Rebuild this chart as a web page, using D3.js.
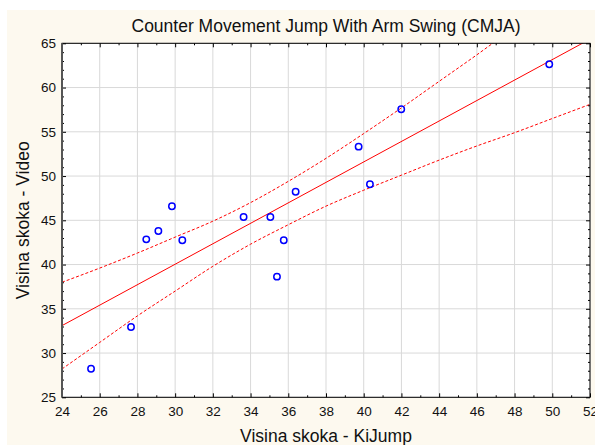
<!DOCTYPE html>
<html>
<head>
<meta charset="utf-8">
<script src="https://cdn.jsdelivr.net/npm/d3@7"></script>
<style>
  body { margin: 0; background: #fff; }
  text { font-family: "Liberation Sans", Arial, sans-serif; fill: #111; }
</style>
</head>
<body>
<div id="chart"></div>
<script>
// measured points (KiJump vs Video)
const kiJump = [25.54, 27.66, 28.47, 29.11, 29.83, 30.38, 33.63, 35.05, 35.40, 35.76, 36.39, 39.73, 40.33, 41.99, 49.84];
const video = [28.23, 32.94, 42.85, 43.79, 46.58, 42.74, 45.37, 45.37, 38.63, 42.74, 48.23, 53.32, 49.07, 57.54, 62.63];

// regression line ends
const fitX = [24, 52];
const fitY = [33.1, 65.47];

// 95% confidence bands, read at every major x tick
const bandX = [24, 26, 28, 30, 32, 34, 36, 38, 40, 42, 44, 46, 48, 50, 52];
const bandUpper = [38.0, 39.6, 41.3, 43.1, 44.9, 47.0, 49.4, 52.0, 54.8, 57.7, 60.7, 63.7, 66.8, 69.8, 72.9];
const bandLower = [28.2, 31.2, 34.2, 37.0, 39.8, 42.3, 44.5, 46.6, 48.4, 50.1, 51.8, 53.4, 54.9, 56.5, 58.1];

const xTicks = d3.range(24, 53, 2);
const yTicks = d3.range(25, 66, 5);

const title = "Counter Movement Jump With Arm Swing (CMJA)";
const xLabel = "Visina skoka - KiJump";
const yLabel = "Visina skoka - Video";

const W = 595, H = 445;
const mLeft = 62, mRight = 590, mTop = 43.3, mBottom = 397.3;

const svg = d3.select("#chart").append("svg").attr("width", W).attr("height", H);

svg.append("rect").attr("x", 7).attr("y", 10).attr("width", W - 7).attr("height", H - 10)
  .attr("fill", "#fdf9ef");

const x = d3.scaleLinear().domain([24, 52]).range([mLeft, mRight]);
const y = d3.scaleLinear().domain([25, 65]).range([mBottom, mTop]);

svg.append("rect").attr("x", mLeft).attr("y", mTop).attr("width", mRight - mLeft).attr("height", mBottom - mTop)
  .attr("fill", "#fff");

svg.append("clipPath").attr("id", "plot-clip").append("rect")
  .attr("x", mLeft).attr("y", mTop).attr("width", mRight - mLeft).attr("height", mBottom - mTop);

// grid
svg.append("g").selectAll("line").data(xTicks).enter().append("line")
  .attr("x1", d => x(d)).attr("x2", d => x(d)).attr("y1", mTop).attr("y2", mBottom)
  .attr("stroke", "#d9d9d9").attr("stroke-width", 1);
svg.append("g").selectAll("line").data(yTicks).enter().append("line")
  .attr("x1", mLeft).attr("x2", mRight).attr("y1", d => y(d)).attr("y2", d => y(d))
  .attr("stroke", "#d9d9d9").attr("stroke-width", 1);

const plot = svg.append("g").attr("clip-path", "url(#plot-clip)");

const line = d3.line().x(d => x(d[0])).y(d => y(d[1]));
const bandLine = d3.line().curve(d3.curveMonotoneX).x(d => x(d[0])).y(d => y(d[1]));

plot.append("path").attr("d", line(d3.zip(fitX, fitY)))
  .attr("fill", "none").attr("stroke", "#ff0000").attr("stroke-width", 1);

[bandUpper, bandLower].forEach(function(band) {
  plot.append("path").attr("d", bandLine(d3.zip(bandX, band)))
    .attr("fill", "none").attr("stroke", "#ff0000").attr("stroke-width", 1)
    .attr("stroke-dasharray", "3,2");
});

plot.selectAll("circle").data(d3.zip(kiJump, video)).enter().append("circle")
  .attr("cx", d => x(d[0])).attr("cy", d => y(d[1])).attr("r", 3.2)
  .attr("fill", "none").attr("stroke", "#0000ff").attr("stroke-width", 1.5);

// axes with inward ticks
function styleAxis(g) {
  g.select(".domain").remove();
  g.selectAll(".tick line").attr("stroke", "#000");
  g.selectAll(".tick text").attr("font-size", "13.5px").attr("fill", "#111")
    .attr("font-family", "Liberation Sans, Arial, sans-serif");
}

svg.append("g").attr("transform", `translate(0,${mBottom})`)
  .call(d3.axisBottom(x).tickValues(xTicks).tickSizeInner(-4).tickSizeOuter(0).tickPadding(9).tickFormat(d3.format("d")))
  .call(styleAxis);
svg.append("g").attr("transform", `translate(0,${mBottom})`)
  .call(d3.axisBottom(x).tickValues(d3.range(25, 52, 2)).tickSize(-2).tickFormat(""))
  .call(styleAxis);
svg.append("g").attr("transform", `translate(0,${mTop})`)
  .call(d3.axisTop(x).tickValues(d3.range(24, 53, 1)).tickSize(0).tickFormat(""))
  .call(styleAxis)
  .selectAll(".tick line").attr("y2", d => d % 2 === 0 ? 4 : 2);

svg.append("g").attr("transform", `translate(${mLeft},0)`)
  .call(d3.axisLeft(y).tickValues(yTicks).tickSizeInner(-4).tickSizeOuter(0).tickPadding(6).tickFormat(d3.format("d")))
  .call(styleAxis);
svg.append("g").attr("transform", `translate(${mLeft},0)`)
  .call(d3.axisLeft(y).tickValues(d3.range(25, 66, 1).filter(d => d % 5 !== 0)).tickSize(-2).tickFormat(""))
  .call(styleAxis);
svg.append("g").attr("transform", `translate(${mRight},0)`)
  .call(d3.axisRight(y).tickValues(d3.range(25, 66, 1)).tickSize(0).tickFormat(""))
  .call(styleAxis)
  .selectAll(".tick line").attr("x2", d => d % 5 === 0 ? -4 : -2);

// frame
svg.append("rect").attr("x", mLeft).attr("y", mTop).attr("width", mRight - mLeft).attr("height", mBottom - mTop)
  .attr("fill", "none").attr("stroke", "#000").attr("stroke-width", 1);
svg.append("line").attr("x1", mLeft).attr("x2", mLeft).attr("y1", mTop).attr("y2", mBottom)
  .attr("stroke", "#555").attr("stroke-width", 2);

// labels
svg.append("text").attr("x", (mLeft + mRight) / 2).attr("y", 32).attr("text-anchor", "middle")
  .attr("font-size", "17.5px").text(title);
svg.append("text").attr("x", (mLeft + mRight) / 2).attr("y", 442).attr("text-anchor", "middle")
  .attr("font-size", "17.5px").text(xLabel);
svg.append("text").attr("transform", `translate(29,${(mTop + mBottom) / 2}) rotate(-90)`)
  .attr("text-anchor", "middle").attr("font-size", "17.5px").text(yLabel);
</script>
</body>
</html>
